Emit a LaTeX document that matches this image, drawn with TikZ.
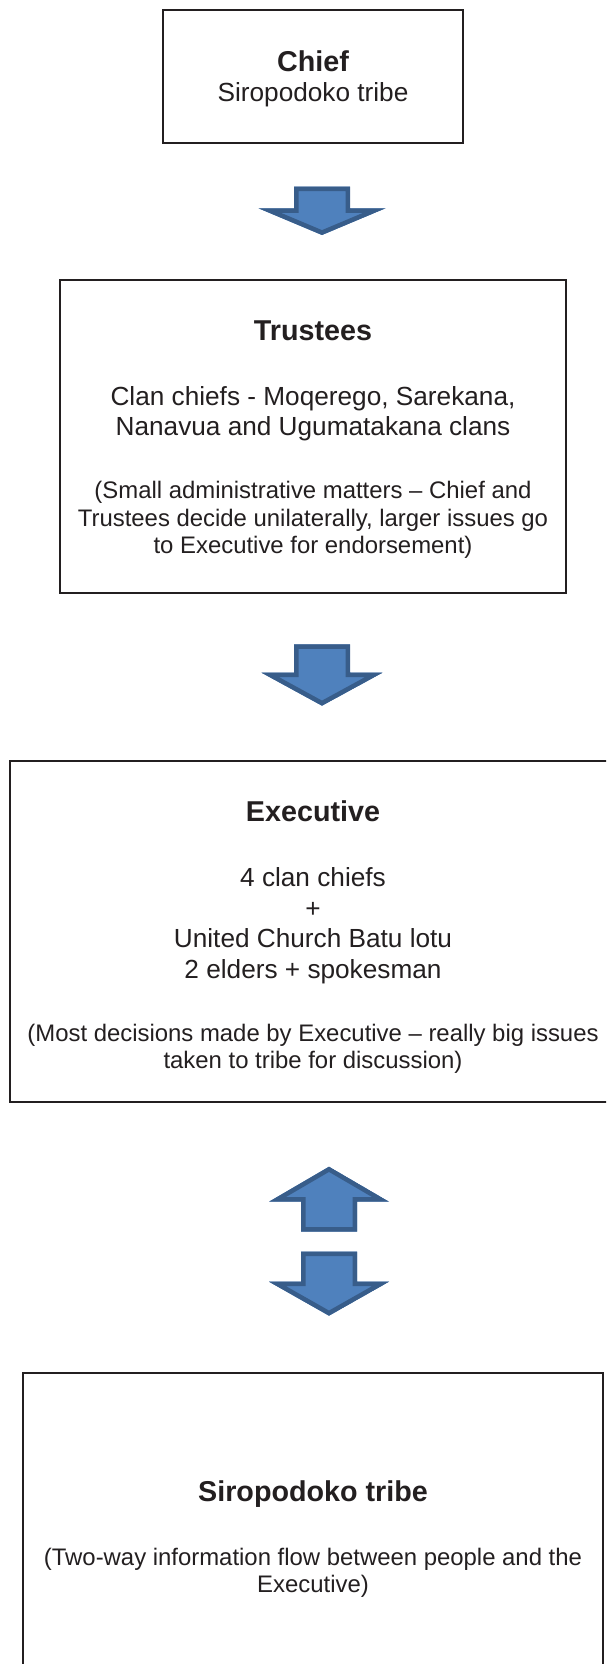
\documentclass[tikz,border=0pt]{standalone}
\usepackage{fontspec}
\setmainfont{Liberation Sans}
\begin{document}
\definecolor{ink}{HTML}{231F20}
\definecolor{arrowfill}{HTML}{4F81BD}
\definecolor{arrowline}{HTML}{385D8A}
% block arrow: #1 centre x, #2 shaft end y, #3 head base y, #4 tip y,
% #5 half shaft width, #6 half head width
\newcommand\blockarrow[6]{%
  \begin{scope}
    \clip (#1-#5,#2) -- (#1+#5,#2) -- (#1+#5,#3) -- (#1+#6,#3) -- (#1,#4)
      -- (#1-#6,#3) -- (#1-#5,#3) -- cycle;
    \filldraw[arrowbody] (#1-#5,#2) -- (#1+#5,#2) -- (#1+#5,#3) -- (#1+#6,#3)
      -- (#1,#4) -- (#1-#6,#3) -- (#1-#5,#3) -- cycle;
  \end{scope}}
\begin{tikzpicture}[x=1pt,y=-1pt,
  box/.style={draw=ink, line width=2.2pt, rectangle, inner sep=0pt},
  arrowbody/.style={fill=arrowfill, draw=arrowline, line width=9pt, line join=miter},
  txt/.style={anchor=base, inner sep=0pt, text=ink, font=\fontsize{26.2}{30}\selectfont},
  hd/.style={txt, font=\fontsize{28.7}{33}\selectfont\bfseries},
  sm/.style={txt, font=\fontsize{23.9}{27.5}\selectfont}]
  \fill[white] (0,0) rectangle (606,1664);
  \useasboundingbox (0,0) rectangle (606,1664);
  \clip (0,0) rectangle (606,1664);

  % boxes
  \node[box, minimum width=300pt, minimum height=133pt] (chief) at (313,76.5) {};
  \node[box, minimum width=506pt, minimum height=313pt] (trustees) at (313,436.5) {};
  \node[box, minimum width=606pt, minimum height=341pt] (exec) at (313,931.5) {};
  \node[box, minimum width=580pt, minimum height=334pt] (tribe) at (313,1540) {};

  % Chief
  \node[hd] (chief-1) at (313,72) {Chief};
  \node[txt] (chief-2) at (313,102) {Siropodoko tribe};

  % Trustees
  \node[hd] (tr-1) at (313,340.5) {Trustees};
  \node[txt] (tr-2) at (313,405.5) {Clan chiefs - Moqerego, Sarekana,};
  \node[txt] (tr-3) at (313,435.5) {Nanavua and Ugumatakana clans};
  \node[sm] (tr-4) at (313,498.5) {(Small administrative matters – Chief and};
  \node[sm] (tr-5) at (313,526.2) {Trustees decide unilaterally, larger issues go};
  \node[sm] (tr-6) at (313,553.6) {to Executive for endorsement)};

  % Executive
  \node[hd] (ex-1) at (313,821.7) {Executive};
  \node[txt] (ex-2) at (313,886.7) {4 clan chiefs};
  \node[txt] (ex-3) at (313,917) {+};
  \node[txt] (ex-4) at (313,947.5) {United Church Batu lotu};
  \node[txt] (ex-5) at (313,978) {2 elders + spokesman};
  \node[sm] (ex-6) at (313,1041.7) {(Most decisions made by Executive – really big issues};
  \node[sm] (ex-7) at (313,1068.5) {taken to tribe for discussion)};

  % Siropodoko tribe
  \node[hd] (tb-1) at (313,1501.7) {Siropodoko tribe};
  \node[sm] (tb-2) at (313,1565.5) {(Two-way information flow between people and the};
  \node[sm] (tb-3) at (313,1592) {Executive)};

  % block arrows between the levels
  \blockarrow{322}{186.7}{208.3}{235}{28}{63.5}
  \blockarrow{322}{644.3}{672.7}{705.7}{28}{60.5}
  \blockarrow{329}{1231.7}{1201.7}{1166.7}{28}{60}
  \blockarrow{329}{1251.7}{1281.7}{1315.7}{28}{60}
\end{tikzpicture}
\end{document}
